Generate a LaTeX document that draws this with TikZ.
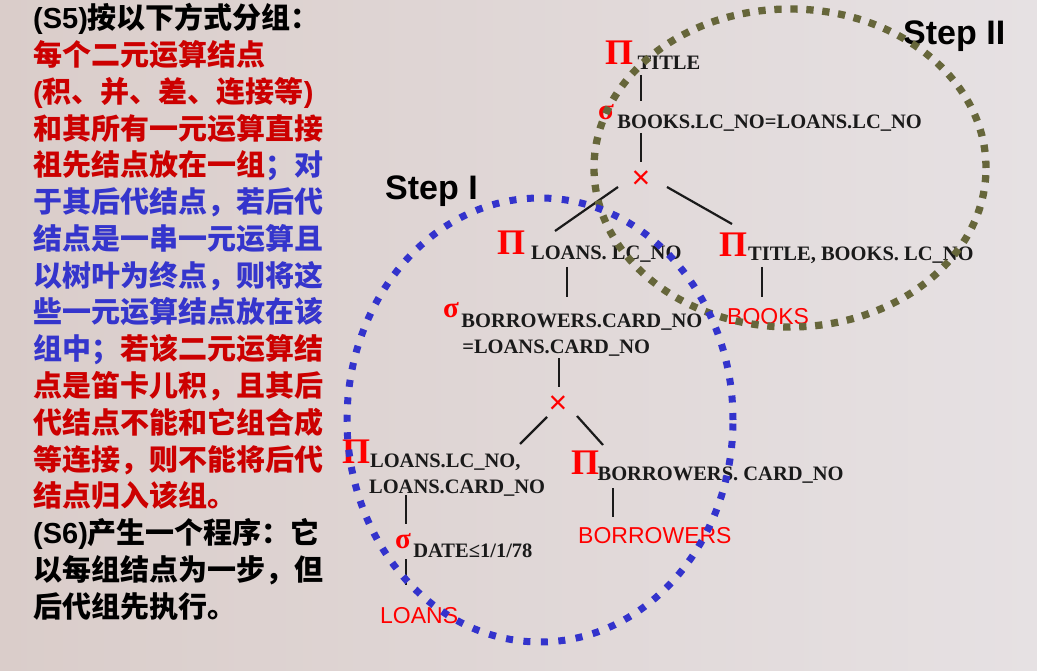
\documentclass[tikz,border=0pt]{standalone}
\usepackage{fontspec}
\usepackage{xcolor}
\usepackage{tikz}
\usetikzlibrary{positioning, calc}
\newfontfamily\cjkfont{Noto Sans CJK SC}
\newfontfamily\treeserif{Liberation Serif}
\newfontfamily\treesans{Liberation Sans}
\definecolor{qcolor0}{HTML}{DACDCA}
\definecolor{qcolor1}{HTML}{E6E1E3}
\definecolor{qcolor2}{HTML}{000000}
\definecolor{qcolor3}{HTML}{CC0000}
\definecolor{qcolor4}{HTML}{3535CC}
\definecolor{qcolor5}{HTML}{FF0000}
\definecolor{qcolor6}{HTML}{66663A}
\definecolor{qcolor7}{HTML}{3333CC}
\definecolor{qcolor8}{HTML}{1A1A1A}
\newcommand{\latinpart}[1]{{\treesans\bfseries #1}}
\tikzset{
  note_line/.style={anchor=base west, inner sep=0pt, font=\cjkfont\bfseries\fontsize{29}{36}\selectfont},
  op_pi/.style={anchor=base west, inner sep=0pt, text=qcolor5, font=\treeserif\bfseries\fontsize{36}{36}\selectfont},
  op_sigma/.style={anchor=base west, inner sep=0pt, text=qcolor5, font=\treeserif\bfseries\fontsize{29}{29}\selectfont},
  op_sub/.style={anchor=base west, inner sep=0pt, text=qcolor8, font=\treeserif\bfseries\fontsize{20.5}{26}\selectfont},
  op_cross/.style={inner sep=0pt, text=qcolor5, font=\treesans\fontsize{32}{32}\selectfont},
  rel_leaf/.style={anchor=base west, inner sep=0pt, text=qcolor5, font=\treesans\fontsize{23}{23}\selectfont},
  tree_edge/.style={line width=2.2pt, color=qcolor8},
  step_label/.style={anchor=base west, inner sep=0pt, text=qcolor2, font=\treesans\bfseries\fontsize{34}{34}\selectfont},
  group_step_one/.style={draw=qcolor7, line width=7pt, dash pattern=on 7pt off 10.5pt},
  group_step_two/.style={draw=qcolor6, line width=7.3pt, dash pattern=on 7.3pt off 8.7pt}
}
\begin{document}
\begin{tikzpicture}[x=1pt, y=-1pt]
\useasboundingbox (0,0) rectangle (1037,671);
\fill[left color=qcolor0, right color=qcolor1] (0,0) rectangle (1037,671);
% left column text
\node[note_line, text=qcolor2] (note_line_0) at (33,29) {\latinpart{(S5)}按以下方式分组：};
\node[note_line, text=qcolor3] (note_line_1) at ($(note_line_0.base west) + (0,36.75)$) {每个二元运算结点};
\node[note_line, text=qcolor3] (note_line_2) at ($(note_line_1.base west) + (0,36.75)$) {\latinpart{(}积、并、差、连接等\latinpart{)}};
\node[note_line, text=qcolor3] (note_line_3) at ($(note_line_2.base west) + (0,36.75)$) {和其所有一元运算直接};
\node[note_line, text=qcolor3] (note_line_4) at ($(note_line_3.base west) + (0,36.75)$) {祖先结点放在一组\textcolor{qcolor4}{；对}};
\node[note_line, text=qcolor4] (note_line_5) at ($(note_line_4.base west) + (0,36.75)$) {于其后代结点，若后代};
\node[note_line, text=qcolor4] (note_line_6) at ($(note_line_5.base west) + (0,36.75)$) {结点是一串一元运算且};
\node[note_line, text=qcolor4] (note_line_7) at ($(note_line_6.base west) + (0,36.75)$) {以树叶为终点，则将这};
\node[note_line, text=qcolor4] (note_line_8) at ($(note_line_7.base west) + (0,36.75)$) {些一元运算结点放在该};
\node[note_line, text=qcolor4] (note_line_9) at ($(note_line_8.base west) + (0,36.75)$) {组中；\textcolor{qcolor3}{若该二元运算结}};
\node[note_line, text=qcolor3] (note_line_10) at ($(note_line_9.base west) + (0,36.75)$) {点是笛卡儿积，且其后};
\node[note_line, text=qcolor3] (note_line_11) at ($(note_line_10.base west) + (0,36.75)$) {代结点不能和它组合成};
\node[note_line, text=qcolor3] (note_line_12) at ($(note_line_11.base west) + (0,36.75)$) {等连接，则不能将后代};
\node[note_line, text=qcolor3] (note_line_13) at ($(note_line_12.base west) + (0,36.75)$) {结点归入该组。};
\node[note_line, text=qcolor2] (note_line_14) at ($(note_line_13.base west) + (0,36.75)$) {\latinpart{(S6)}产生一个程序：它};
\node[note_line, text=qcolor2] (note_line_15) at ($(note_line_14.base west) + (0,36.75)$) {以每组结点为一步，但};
\node[note_line, text=qcolor2] (note_line_16) at ($(note_line_15.base west) + (0,36.75)$) {后代组先执行。};
% query tree
\node[op_pi] (pi_title) at (605,65) {Π};
\node[op_sub] (pi_title_sub) at ($(pi_title.base east) + (4,5)$) {TITLE};
\node[op_sigma] (sigma_books) at (598,120) {σ};
\node[op_sub] (sigma_books_sub) at ($(sigma_books.base east) + (3,9)$) {BOOKS.LC\_NO=LOANS.LC\_NO};
\node[op_cross] (cross_top) at (641,180) {×};
\node[op_pi] (pi_loans) at (497,255) {Π};
\node[op_sub] (pi_loans_sub) at ($(pi_loans.base east) + (5.5,5)$) {LOANS. LC\_NO};
\node[op_pi] (pi_books) at (719,257) {Π};
\node[op_sub] (pi_books_sub) at ($(pi_books.base east) + (0.5,4)$) {TITLE, BOOKS. LC\_NO};
\node[rel_leaf] (rel_books) at (727,324) {BOOKS};
\node[op_sigma] (sigma_card) at (443,318) {σ};
\node[op_sub] (sigma_card_sub) at ($(sigma_card.base east) + (2,9)$) {BORROWERS.CARD\_NO};
\node[op_sub] (sigma_card_sub2) at ($(sigma_card_sub.base west) + (1,26)$) {=LOANS.CARD\_NO};
\node[op_cross] (cross_mid) at (558,405) {×};
\node[op_pi] (pi_loans_card) at (342,463) {Π};
\node[op_sub] (pi_loans_card_sub) at ($(pi_loans_card.base east) + (-0.5,4)$) {LOANS.LC\_NO,};
\node[op_sub] (pi_loans_card_sub2) at ($(pi_loans_card_sub.base west) + (-1,26)$) {LOANS.CARD\_NO};
\node[op_pi] (pi_borrowers) at (571,474) {Π};
\node[op_sub] (pi_borrowers_sub) at ($(pi_borrowers.base east) + (-2,6)$) {BORROWERS. CARD\_NO};
\node[rel_leaf] (rel_borrowers) at (578,543) {BORROWERS};
\node[op_sigma] (sigma_date) at (395,548) {σ};
\node[op_sub] (sigma_date_sub) at ($(sigma_date.base east) + (2,9)$) {DATE≤1/1/78};
\node[rel_leaf] (rel_loans) at (380,623) {LOANS};
% connector ends
\coordinate (title_link_a) at (641,75);   \coordinate (title_link_b) at (641,101);
\coordinate (books_link_a) at (641,133);  \coordinate (books_link_b) at (641,162);
\coordinate (cross_left_a) at (618,187);  \coordinate (cross_left_b) at (555,231);
\coordinate (cross_right_a) at (667,187); \coordinate (cross_right_b) at (732,224);
\coordinate (loans_link_a) at (567,267);  \coordinate (loans_link_b) at (567,297);
\coordinate (books_rel_a) at (762,267);   \coordinate (books_rel_b) at (762,297);
\coordinate (card_link_a) at (559,358);   \coordinate (card_link_b) at (559,387);
\coordinate (mid_left_a) at (547,417);    \coordinate (mid_left_b) at (520,444);
\coordinate (mid_right_a) at (577,416);   \coordinate (mid_right_b) at (603,445);
\coordinate (date_link_a) at (406,495);   \coordinate (date_link_b) at (406,524);
\coordinate (borr_rel_a) at (613,488);    \coordinate (borr_rel_b) at (613,517);
\coordinate (loans_rel_a) at (406,559);   \coordinate (loans_rel_b) at (406,585);
\draw[tree_edge] (title_link_a) -- (title_link_b);
\draw[tree_edge] (books_link_a) -- (books_link_b);
\draw[tree_edge] (cross_left_a) -- (cross_left_b);
\draw[tree_edge] (cross_right_a) -- (cross_right_b);
\draw[tree_edge] (loans_link_a) -- (loans_link_b);
\draw[tree_edge] (books_rel_a) -- (books_rel_b);
\draw[tree_edge] (card_link_a) -- (card_link_b);
\draw[tree_edge] (mid_left_a) -- (mid_left_b);
\draw[tree_edge] (mid_right_a) -- (mid_right_b);
\draw[tree_edge] (date_link_a) -- (date_link_b);
\draw[tree_edge] (borr_rel_a) -- (borr_rel_b);
\draw[tree_edge] (loans_rel_a) -- (loans_rel_b);
% groups
\node[step_label] (step_two_label) at (903,45) {Step II};
\node[step_label] (step_one_label) at (385,200) {Step I};
\draw[group_step_two] (790,168) ellipse [x radius=196pt, y radius=159pt];
\draw[group_step_one] (540,420) ellipse [x radius=193pt, y radius=222pt];
\end{tikzpicture}
\end{document}
